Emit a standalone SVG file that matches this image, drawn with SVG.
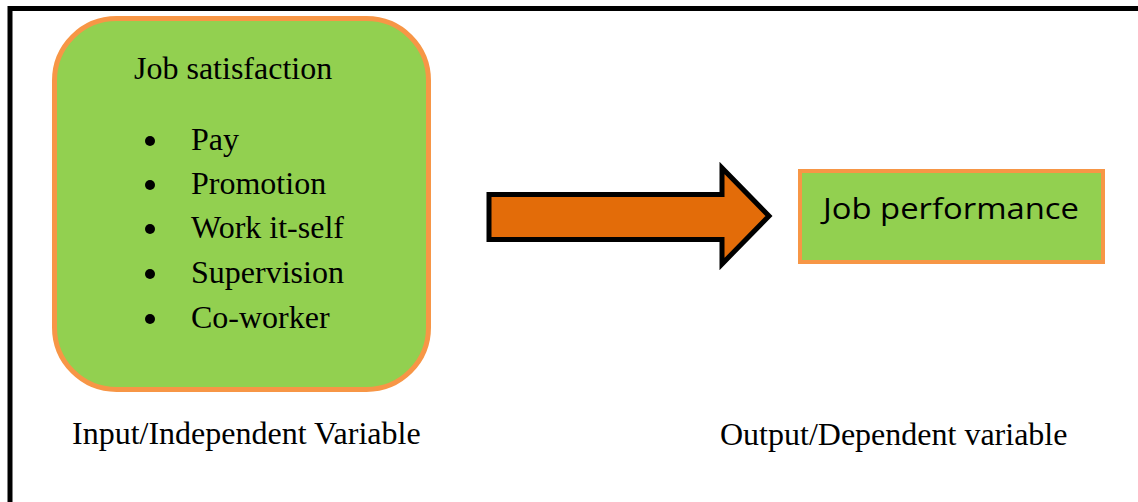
<svg xmlns="http://www.w3.org/2000/svg" width="1138" height="502" viewBox="0 0 1138 502">
  <style>
    .serif { font-family: "Liberation Serif", "Times New Roman", serif; font-size: 32px; fill: #000; }
    .sans { font-family: "Open Sans", "Noto Sans", sans-serif; font-size: 29px; fill: #000; }
    .node { fill: #92D050; stroke: #F79646; }
  </style>

  <rect width="1138" height="502" fill="#fff"/>

  <!-- outer frame (open to the right and bottom) -->
  <path d="M10 508 V8.5 H1145" fill="none" stroke="#000" stroke-width="5"/>

  <g id="job-satisfaction">
    <rect class="node" x="54.5" y="18.5" width="374" height="371" rx="62" ry="62" stroke-width="5"/>
    <text class="serif" x="134" y="79">Job satisfaction</text>
    <g fill="#000">
      <circle cx="150" cy="141" r="5"/>
      <circle cx="150" cy="185" r="5"/>
      <circle cx="150" cy="229" r="5"/>
      <circle cx="150" cy="274" r="5"/>
      <circle cx="150" cy="319" r="5"/>
    </g>
    <text class="serif" x="191" y="150">Pay</text>
    <text class="serif" x="191" y="194">Promotion</text>
    <text class="serif" x="191" y="238">Work it-self</text>
    <text class="serif" x="191" y="283">Supervision</text>
    <text class="serif" x="191" y="328">Co-worker</text>
  </g>

  <g id="connectors">
    <path d="M489 194.5 H722 V168 L769 216 L722 264 V239.5 H489 Z" fill="#E36C09" stroke="#000" stroke-width="5" stroke-linejoin="miter"/>
  </g>

  <g id="job-performance">
    <rect class="node" x="800" y="171" width="303" height="91" stroke-width="4"/>
    <text class="sans" x="823" y="219" textLength="256" lengthAdjust="spacingAndGlyphs">Job performance</text>
  </g>

  <g id="labels">
    <text class="serif" x="72" y="444">Input/Independent Variable</text>
    <text class="serif" x="720" y="445">Output/Dependent variable</text>
  </g>
</svg>
